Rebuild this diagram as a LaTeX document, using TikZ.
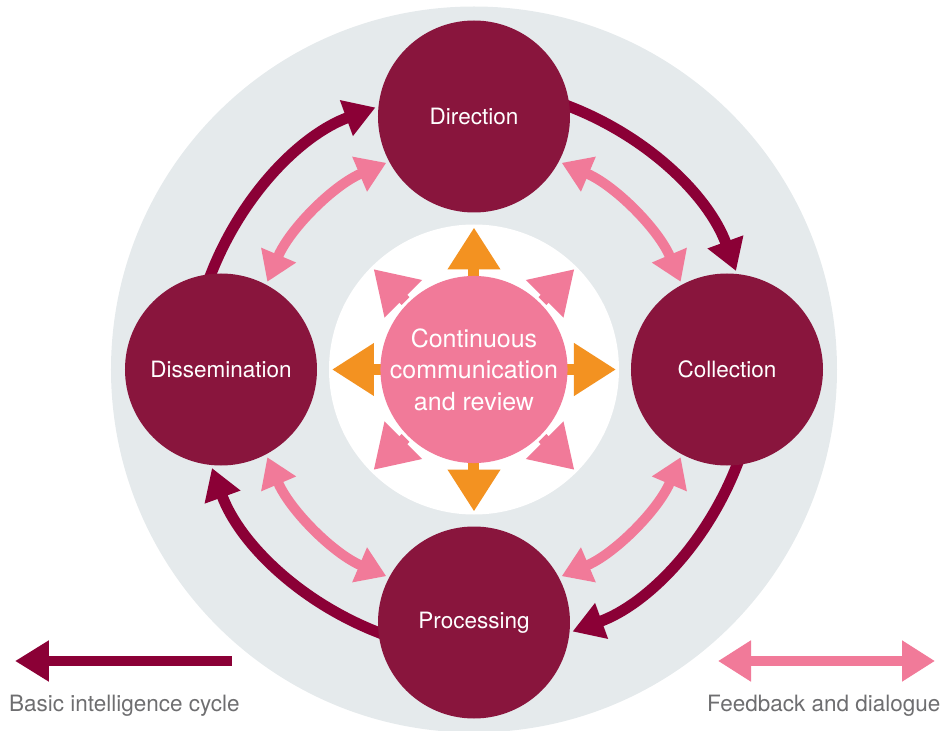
\documentclass[tikz,border=0pt]{standalone}
\usepackage{fontspec}
\setmainfont{TeX Gyre Heros}
\usetikzlibrary{arrows.meta,backgrounds}
\definecolor{wine}{RGB}{137,21,61}
\definecolor{winearrow}{RGB}{139,0,54}
\definecolor{rose}{RGB}{241,122,153}
\definecolor{amber}{RGB}{243,146,33}
\definecolor{mist}{RGB}{229,234,236}
\definecolor{caption}{RGB}{110,110,112}
\begin{document}
\begin{tikzpicture}[x=1pt, y=1pt,
	stage/.style = {circle, fill=wine, minimum size=192pt, inner sep=0pt, text=white, font=\fontsize{22.5}{27}\selectfont},
	cycle/.style = {draw=winearrow, line width=11pt, shorten <=-8pt, shorten >=3pt, -{Triangle[length=31pt, width=36pt]}},
	feedback/.style = {draw=rose, line width=10pt, shorten <=3pt, shorten >=3pt, {Triangle[length=29pt, width=36pt]}-{Triangle[length=29pt, width=36pt]}},
	spoke/.style = {line width=11pt, -{Triangle[length=42pt, width=50pt]}},
	keylabel/.style = {inner sep=0pt, text=caption, font=\fontsize{22.5}{27}\selectfont}]
		\useasboundingbox (-474,-361.5) rectangle (477,369.5);
		% stages of the cycle
		\node (direction) at (0,253) [stage] {Direction};
		\node (collection) at (253,0) [stage] {Collection};
		\node (processing) at (0,-253) [stage] {Processing};
		\node (dissemination) at (-253,0) [stage] {Dissemination};
		\node (hub) at (0,0) [circle, fill=rose, minimum size=181pt, inner sep=0pt, text=white, align=center, font=\fontsize{25}{31.5}\selectfont] {Continuous\\communication\\and review};
		% spoke tips
		\coordinate (tipE) at (0:142);
		\coordinate (tipNE) at (45:142);
		\coordinate (tipN) at (90:142);
		\coordinate (tipNW) at (135:142);
		\coordinate (tipW) at (180:142);
		\coordinate (tipSW) at (225:142);
		\coordinate (tipS) at (270:142);
		\coordinate (tipSE) at (315:142);
		\begin{scope}[on background layer]
			\fill[mist] (hub.center) circle (363);
			\fill[white] (hub.center) circle (145);
			\draw[spoke, amber] (hub.center) -- (tipE);
			\draw[spoke, amber] (hub.center) -- (tipN);
			\draw[spoke, amber] (hub.center) -- (tipW);
			\draw[spoke, amber] (hub.center) -- (tipS);
			\draw[spoke, rose] ([shift={(45:3)}]hub.45) -- (tipNE);
			\draw[spoke, rose] ([shift={(135:3)}]hub.135) -- (tipNW);
			\draw[spoke, rose] ([shift={(225:3)}]hub.225) -- (tipSW);
			\draw[spoke, rose] ([shift={(315:3)}]hub.315) -- (tipSE);
			% basic cycle
			\draw[cycle] (direction.6) to[bend left=25, looseness=0.89] (collection.84);
			\draw[cycle] (collection.-84) to[bend left=25, looseness=0.89] (processing.-6);
			\draw[cycle] (processing.186) to[bend left=25, looseness=0.89] (dissemination.264);
			\draw[cycle] (dissemination.96) to[bend left=25, looseness=0.89] (direction.174);
			% feedback
			\draw[feedback] (direction.-28) to[bend left=22, looseness=0.89] (collection.118);
			\draw[feedback] (collection.-118) to[bend left=22, looseness=0.89] (processing.28);
			\draw[feedback] (processing.152) to[bend left=22, looseness=0.89] (dissemination.-62);
			\draw[feedback] (dissemination.62) to[bend left=22, looseness=0.89] (direction.-152);
		\end{scope}
		% key
		\coordinate (cyclefrom) at (-242,-291.5);
		\coordinate (cycleto) at (-459,-291.5);
		\coordinate (feedbackfrom) at (244,-291.5);
		\coordinate (feedbackto) at (461,-291.5);
		\draw[draw=winearrow, line width=9.5pt, -{Triangle[length=34pt, width=39pt]}] (cyclefrom) -- (cycleto);
		\draw[draw=rose, line width=9.5pt, {Triangle[length=33pt, width=39pt]}-{Triangle[length=33pt, width=39pt]}] (feedbackfrom) -- (feedbackto);
		\node (cyclekey) at (-465,-342.2) [keylabel, anchor=base west] {Basic intelligence cycle};
		\node (feedbackkey) at (466.7,-342.2) [keylabel, anchor=base east] {Feedback and dialogue};
\end{tikzpicture}
\end{document}
